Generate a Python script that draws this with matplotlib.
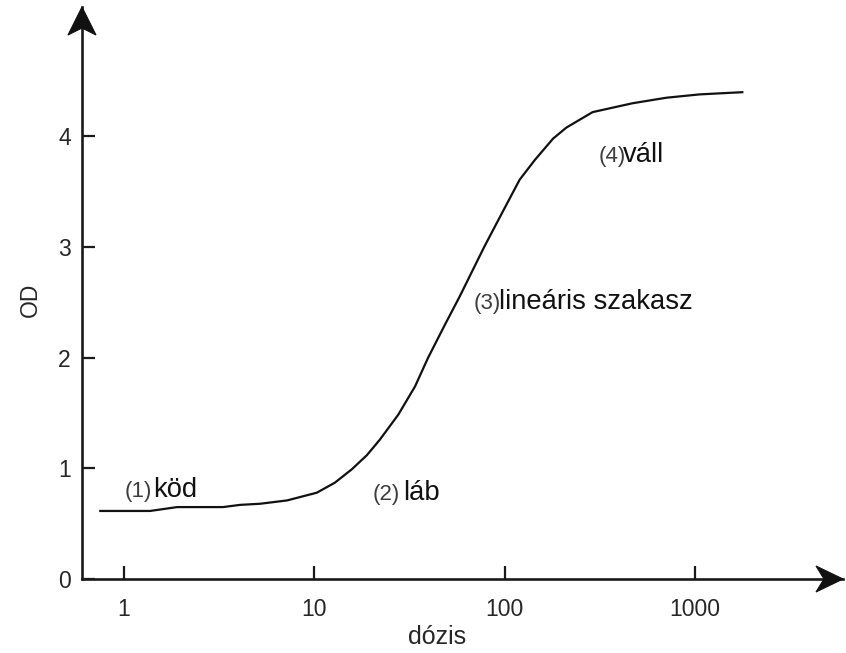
import matplotlib
matplotlib.use("Agg")
import matplotlib.pyplot as plt
from matplotlib.patches import Polygon
from matplotlib.transforms import Affine2D
from matplotlib.ticker import NullLocator, FixedLocator, FixedFormatter

# Characteristic (H&D) curve: optical density vs. dose (log scale)
dose = [0.75, 1.37, 1.90, 3.31, 4.07, 5.18, 7.18, 10.3, 12.8, 15.7, 18.9,
        22.1, 27.6, 33.8, 39.6, 48.6, 58.3, 78.0, 100.5, 120, 144.5, 179.6,
        211, 290, 470, 708, 1057, 1774]
od = [0.615, 0.615, 0.65, 0.65, 0.67, 0.68, 0.71, 0.78, 0.87, 0.99, 1.12,
      1.26, 1.485, 1.74, 2.00, 2.30, 2.56, 3.00, 3.36, 3.61, 3.79, 3.98,
      4.08, 4.22, 4.30, 4.35, 4.38, 4.40]

x_ticks = [1, 10, 100, 1000]
x_tick_labels = ["1", "10", "100", "1000"]
y_ticks = [0, 1, 2, 3, 4]

# region labels: (number, word, x of number, x of word, y baseline)
region_nums = ["(1)", "(2)", "(3)", "(4)"]
region_words = ["köd", "láb", "lineáris szakasz", "váll"]
num_x = [1.01, 20.3, 69.0, 310.0]
word_x = [1.42, 29.2, 93.6, 419.0]
label_y = [0.74, 0.71, 2.44, 3.77]

plt.rcParams["font.family"] = ["Liberation Sans", "DejaVu Sans"]

W, H = 846, 653
fig = plt.figure(figsize=(W / 100, H / 100), dpi=100)
ax = fig.add_axes([82 / W, 74 / H, (843 - 82) / W, (579 - 7) / H])

ax.plot(dose, od, color="#111111", lw=1.6, solid_joinstyle="round")

ax.set_xscale("log")
ax.set_xlim(0.601, 6000)
ax.set_ylim(0, 5.17)

ax.xaxis.set_major_locator(FixedLocator(x_ticks))
ax.xaxis.set_major_formatter(FixedFormatter(x_tick_labels))
ax.xaxis.set_minor_locator(NullLocator())
ax.set_yticks(y_ticks)
ax.set_yticklabels([str(v) for v in y_ticks])

for side in ("top", "right"):
    ax.spines[side].set_visible(False)
for side in ("left", "bottom"):
    ax.spines[side].set_linewidth(1.9)
    ax.spines[side].set_color("#1a1a1a")

ax.tick_params(axis="both", direction="in", length=9.5, width=1.6,
               color="#1a1a1a", labelsize=16.5, labelcolor="#262626")
ax.tick_params(axis="x", pad=14)
ax.tick_params(axis="y", pad=8)

# arrowheads at the ends of both axes (pixel offsets from the tip)
fig.canvas.draw()
tip_x = ax.transAxes.transform((1, 0))
tip_y = ax.transAxes.transform((0, 1))
head_x = [(0, 0), (-27, 13), (-19, 0), (-27, -13)]
head_y = [(0, 0), (-14, -28), (0, -21), (14, -28)]
for verts, tip in ((head_x, tip_x), (head_y, tip_y)):
    poly = Polygon(verts, closed=True, facecolor="#111111", edgecolor="#111111",
                   lw=0.8, transform=Affine2D().translate(*tip),
                   clip_on=False, zorder=5)
    fig.add_artist(poly)

# region annotations
for n, w, nx, wx, y in zip(region_nums, region_words, num_x, word_x, label_y):
    ax.text(nx, y, n, fontsize=16, color="#3d3d3d", va="baseline", ha="left")
    ax.text(wx, y, w, fontsize=19.7, color="#111111", va="baseline", ha="left")

fig.text(30 / W, 1 - 300 / H, "OD", rotation=90, ha="center", va="center",
         fontsize=16.5, color="#262626")
fig.text(437 / W, 1 - 637 / H, "dózis", ha="center", va="center",
         fontsize=18, color="#262626")

fig.savefig("out.png", dpi=100)
